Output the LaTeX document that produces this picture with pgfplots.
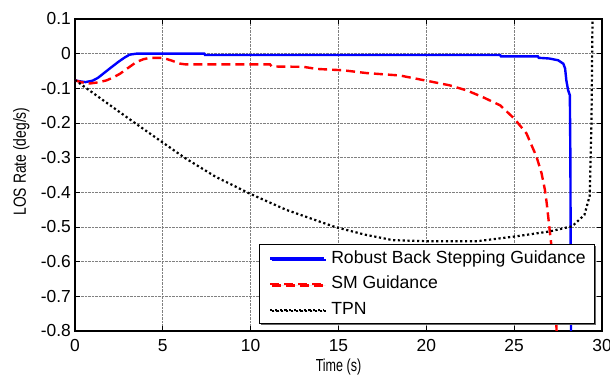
\documentclass[border=0pt]{standalone}
\usepackage{pgfplots}
\pgfplotsset{compat=1.18}
\usepackage{fontspec}
\setmainfont{Liberation Sans}
\newfontfamily\xlabfont{Liberation Sans}[FakeStretch=0.72]
\newfontfamily\ylabfont{Liberation Sans}[FakeStretch=0.79]
\usetikzlibrary{shadows}
\begin{document}
\begin{tikzpicture}
\begin{axis}[
  scale only axis,
  width=527pt, height=312pt,
  xmin=0, xmax=30, ymin=-0.8, ymax=0.1,
  xtick={0,5,10,15,20,25,30},
  xticklabels={0,5,10,15,20,25,30},
  ytick={-0.8,-0.7,-0.6,-0.5,-0.4,-0.3,-0.2,-0.1,0,0.1},
  yticklabels={-0.8,-0.7,-0.6,-0.5,-0.4,-0.3,-0.2,-0.1,0,0.1},
  tick align=inside,
  major tick length=5pt,
  tick style={black, line width=0.8pt},
  axis line style={black, line width=1.2pt},
  grid=major,
  major grid style={densely dotted, black!50, line width=0.7pt},
  ticklabel style={font=\fontsize{17.4}{20}\selectfont},
  yticklabel style={anchor=east, inner xsep=0pt, xshift=-4pt},
  xticklabel style={anchor=base, inner ysep=0pt, yshift=-21pt},
  xlabel={\xlabfont\fontsize{17.4}{20}\selectfont Time (s)},
  ylabel={\ylabfont\fontsize{17.6}{20}\selectfont LOS Rate (deg/s)},
  xlabel style={at={(axis description cs:0.5,-0.1298)}, anchor=base, inner sep=0pt},
  ylabel style={at={(axis description cs:-0.093,0.543)}, anchor=base, rotate=0},
  legend style={at={(0.987,0.022)}, anchor=south east, draw=black, line width=1pt,
    fill=white, font=\fontsize{17.6}{20}\selectfont, inner xsep=9pt, inner ysep=5.5pt,
    row sep=8.5pt, nodes={inner sep=0pt, text height=13pt, text depth=4pt},
    general shadow={fill=black!60, shadow xshift=1.5pt, shadow yshift=-1.5pt}},
  legend cell align=left,
  legend image code/.code={\draw[#1] (0pt,0pt) -- (54pt,0pt); \path (60pt,0pt);},
  clip=true,
]
\addplot[blue, line width=2.4pt] coordinates {
(0,-0.077)(0.3,-0.08)(0.6,-0.082)(1.0,-0.078)(1.3,-0.07)(1.6,-0.058)(2.0,-0.042)
(2.46,-0.024)(2.8,-0.012)(3.1,-0.003)(3.5,0)(7.36,0)(7.4,-0.004)(24.2,-0.004)
(24.25,-0.008)(26.35,-0.008)(26.4,-0.012)(27.0,-0.014)(27.5,-0.019)(27.8,-0.029)
(27.9,-0.043)(27.97,-0.077)(28.07,-0.105)(28.17,-0.12)(28.2,-0.3)(28.22,-0.6)(28.24,-0.85)
};
\addlegendentry{Robust Back Stepping Guidance}
\addplot[red, line width=2.4pt, dash pattern=on 9pt off 5pt] coordinates {
(0,-0.077)(0.4,-0.083)(0.85,-0.086)(1.3,-0.083)(1.8,-0.077)(2.2,-0.068)(2.56,-0.058)
(3.0,-0.042)(3.5,-0.024)(3.9,-0.016)(4.27,-0.012)(5.0,-0.012)(5.5,-0.02)(6.0,-0.029)
(6.3,-0.031)(11.1,-0.031)(11.2,-0.037)(13,-0.038)(13.75,-0.044)(15.27,-0.048)
(16.6,-0.056)(18.5,-0.063)(19.6,-0.074)(21.3,-0.091)(22.3,-0.106)(23.2,-0.125)
(24.2,-0.149)(25.0,-0.187)(25.7,-0.23)(26.27,-0.297)(26.56,-0.345)(26.75,-0.393)
(26.85,-0.43)(27.1,-0.545)(27.4,-0.78)(27.45,-0.85)
};
\addlegendentry{SM Guidance}
\addplot[black, line width=2.2pt, dash pattern=on 2.2pt off 2.6pt] coordinates {
(0,-0.076)(1.7,-0.138)(3.41,-0.2)(4.93,-0.254)(6.26,-0.301)(8,-0.355)(9.96,-0.404)
(12,-0.45)(14.8,-0.5)(16.5,-0.522)(18.1,-0.538)(20,-0.541)(22.9,-0.541)(25.1,-0.527)
(27,-0.513)(28.3,-0.498)(29,-0.465)(29.3,-0.41)(29.4,-0.2)(29.46,0.1)(29.47,0.15)
};
\addlegendentry{TPN}
\end{axis}
\pgfresetboundingbox
\path ([xshift=-75pt,yshift=-50pt]current axis.south west) rectangle ([xshift=8pt,yshift=19pt]current axis.north east);
\end{tikzpicture}
\end{document}
